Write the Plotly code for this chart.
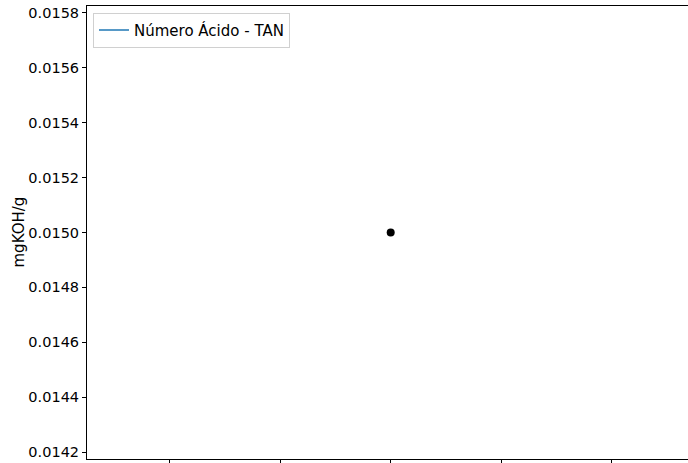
import plotly.graph_objects as go

# data
x_vals = [0.0]
tan_vals = [0.015]
series_name = "Número Ácido - TAN"
y_title = "mgKOH/g"
y_ticks = [0.0142, 0.0144, 0.0146, 0.0148, 0.0150, 0.0152, 0.0154, 0.0156, 0.0158]
x_ticks = [-0.04, -0.02, 0.0, 0.02, 0.04]

fig = go.Figure()
fig.add_trace(go.Scatter(x=x_vals, y=tan_vals, mode="lines", name=series_name,
                         line=dict(color="#1f77b4", width=1.5), showlegend=True))
fig.add_trace(go.Scatter(x=x_vals, y=tan_vals, mode="markers", showlegend=False,
                         marker=dict(color="black", size=8)))

fig.update_layout(
    width=688, height=463,
    margin=dict(l=87, r=0, t=6, b=4, autoexpand=False),
    paper_bgcolor="white", plot_bgcolor="white",
    font=dict(family="DejaVu Sans", size=15, color="black"),
    legend=dict(x=0.01, y=0.985, xanchor="left", yanchor="top",
                bordercolor="#d0d0d0", borderwidth=1, bgcolor="rgba(255,255,255,0.8)",
                font=dict(size=15)),
    annotations=[dict(text=y_title, textangle=-90, xref="paper", yref="paper",
                      x=0, y=0.5, xshift=-80, showarrow=False, font=dict(size=15))],
)
fig.update_xaxes(range=[-0.055, 0.05384], tickvals=x_ticks, showticklabels=False,
                 ticks="outside", ticklen=4, tickcolor="black", showgrid=False, automargin=False,
                 zeroline=False, showline=True, linecolor="black", linewidth=1, mirror=True)
fig.update_yaxes(range=[0.014175, 0.015825], tickvals=y_ticks, tickformat=".4f", automargin=False,
                 ticks="outside", ticklen=4, tickcolor="black", showgrid=False,
                 tickfont=dict(family="DejaVu Sans", size=14.5),
                 zeroline=False, showline=True, linecolor="black", linewidth=1)

fig.write_html("out.html", config={"displayModeBar": False},
               post_script="document.body.style.margin='0';document.body.style.overflow='hidden';")
